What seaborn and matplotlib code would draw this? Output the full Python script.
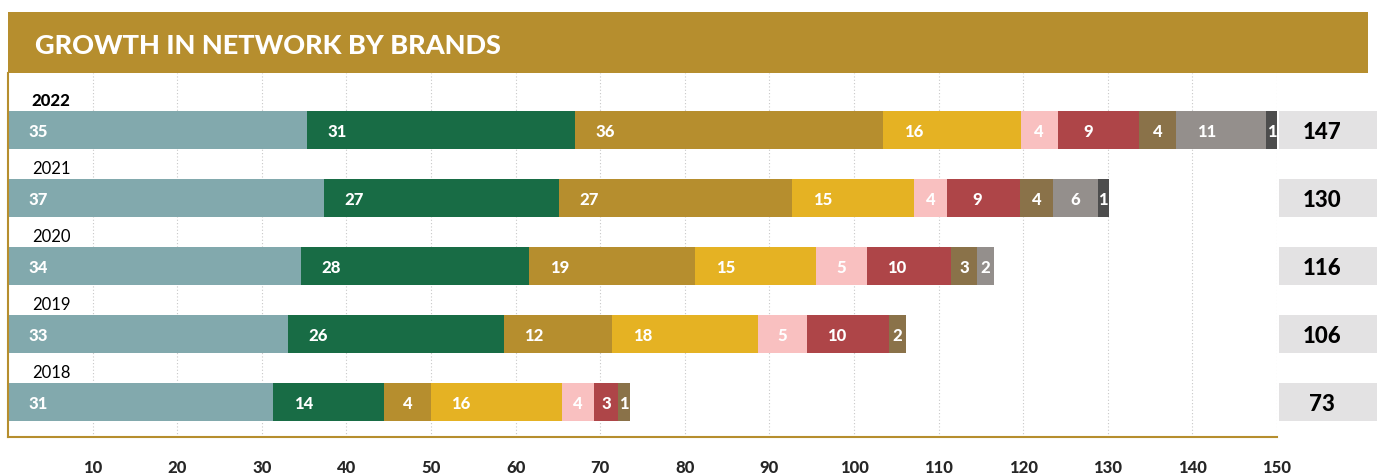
import pandas as pd
import matplotlib.pyplot as plt
import seaborn as sns
from matplotlib.patches import Rectangle

# ===============================
# Data
# ===============================
years = ["2022", "2021", "2020", "2019", "2018"]
totals = [147, 130, 116, 106, 73]

brand_colors = ["#82A9AD", "#186C45", "#B68E2E", "#E5B223", "#F9C0C0",
                "#AE4548", "#8A7249", "#948F8C", "#4D4D4D"]

# printed label of every segment (0 = brand not present that year)
labels_2022 = [35, 31, 36, 16, 4, 9, 4, 11, 1]
labels_2021 = [37, 27, 27, 15, 4, 9, 4, 6, 1]
labels_2020 = [34, 28, 19, 15, 5, 10, 3, 2, 0]
labels_2019 = [33, 26, 12, 18, 5, 10, 2, 0, 0]
labels_2018 = [31, 14, 4, 16, 4, 3, 1, 0, 0]

# drawn length of every segment, as it appears against the x axis
widths_2022 = [35.3, 31.7, 36.4, 16.3, 4.4, 9.6, 4.4, 10.6, 1.3]
widths_2021 = [37.3, 27.8, 27.55, 14.4, 3.95, 8.6, 3.9, 5.3, 1.3]
widths_2020 = [34.6, 27.0, 19.6, 14.3, 6.0, 10.0, 3.0, 2.0, 0]
widths_2019 = [33.1, 25.5, 12.8, 17.2, 5.8, 9.7, 2.0, 0, 0]
widths_2018 = [31.3, 13.2, 5.45, 15.55, 3.8, 2.8, 1.4, 0, 0]

x_ticks = list(range(10, 151, 10))

labels = [labels_2022, labels_2021, labels_2020, labels_2019, labels_2018]
widths = [widths_2022, widths_2021, widths_2020, widths_2019, widths_2018]

# long table with cumulative end of every segment
rows = []
for year, lab, wid in zip(years, labels, widths):
    end = 0
    for b, (l, w) in enumerate(zip(lab, wid)):
        start = end
        end = start + w
        rows.append({"year": year, "brand": b, "label": l,
                     "width": w, "start": start, "end": end})
df = pd.DataFrame(rows)

# ===============================
# Figure
# ===============================
sns.set_style("white")
plt.rcParams["font.family"] = ["Lato", "DejaVu Sans"]

W, H = 1377, 477
fig = plt.figure(figsize=(W / 100, H / 100), dpi=100)
ax = fig.add_axes([8 / W, 1 - 438 / H, 1269 / W, (438 - 74) / H])

gold = "#B68E2E"

# stacked bars: draw cumulative ends from the last brand to the first
for b in reversed(range(len(brand_colors))):
    sub = df[df["brand"] == b]
    sns.barplot(data=sub, x="end", y="year", order=years, orient="h",
                color=brand_colors[b], width=0.56, linewidth=0,
                saturation=1, errorbar=None, ax=ax)

# segment labels
for _, r in df.iterrows():
    if r["label"] == 0:
        continue
    yi = years.index(r["year"])
    xpos = r["start"] + min(r["width"] / 2, 3.6)
    ax.text(xpos, yi + 0.02, str(r["label"]), color="white", fontsize=12,
            fontweight="black", ha="center", va="center")

# year labels above bars
for i, year in enumerate(years):
    ax.text(2.8, i - 0.44, year, fontsize=12, ha="left", va="center",
            fontweight="black" if i == 0 else "normal", color="black")

# total boxes on the right
for i, tot in enumerate(totals):
    ax.add_patch(Rectangle((150.2, i - 0.28), 11.8, 0.56, color="#E3E2E3",
                           clip_on=False, linewidth=0))
    ax.text(155.3, i + 0.02, str(tot), fontsize=16, fontweight="black",
            ha="center", va="center", color="black", clip_on=False)

# axes styling
ax.set_xlim(0, 150)
ax.set_ylim(4.515, -0.838)
ax.set_xticks(x_ticks)
ax.set_xticklabels([str(t) for t in x_ticks], fontsize=12, fontweight="black")
ax.tick_params(axis="x", length=0, pad=16)
ax.set_yticks([])
ax.set_xlabel("")
ax.set_ylabel("")
ax.xaxis.grid(True, linestyle=(0, (1, 2)), color="#C8C8C8", linewidth=0.8)
ax.yaxis.grid(False)
ax.set_axisbelow(True)
for s in ["top", "right"]:
    ax.spines[s].set_visible(False)
for s in ["left", "bottom"]:
    ax.spines[s].set_color(gold)
    ax.spines[s].set_linewidth(1.5)

# title banner
fig.add_artist(Rectangle((8 / W, 1 - 74 / H), (1368 - 8) / W, (74 - 13) / H,
                         transform=fig.transFigure, color=gold, linewidth=0))
fig.text(35 / W, 1 - 46.5 / H, "GROWTH IN NETWORK BY BRANDS", color="white",
         fontsize=19.5, fontweight="black", ha="left", va="center")

plt.savefig("out.png", dpi=100)
